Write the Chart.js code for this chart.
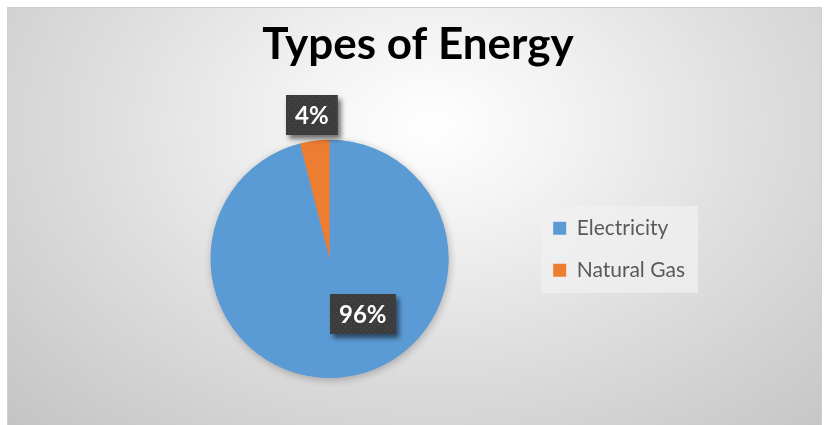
<!DOCTYPE html>
<html>
<head>
<meta charset="utf-8">
<script src="https://cdn.jsdelivr.net/npm/chart.js@4.4.1/dist/chart.umd.min.js"></script>
<style>
  html, body { margin: 0; padding: 0; background: #ffffff; }
  #wrap {
    position: absolute; left: 7px; top: 7px; width: 813px; height: 417px;
    border: 1px solid #cfcfcf; border-bottom: none;
    background: radial-gradient(ellipse farthest-corner at 52% 28%, #ffffff 0%, #f3f3f3 22%, #dedede 55%, #c4c4c4 100%);
  }
  canvas { display: block; }
</style>
</head>
<body>
<div id="wrap"><canvas id="c" width="813" height="417"></canvas></div>
<script>
// ---- data ----
const titleText = 'Types of Energy';
const categories = ['Electricity', 'Natural Gas'];
const shares = [96, 4];
const sliceColors = ['#5B9BD5', '#ED7D31'];

// dotted dark pattern for data-label boxes
function makePattern(ctx) {
  const p = document.createElement('canvas');
  p.width = 6; p.height = 6;
  const pc = p.getContext('2d');
  pc.fillStyle = '#3c3c3c'; pc.fillRect(0, 0, 6, 6);
  pc.fillStyle = '#4e4e4e';
  pc.fillRect(1, 1, 1, 1);
  pc.fillRect(4, 4, 1, 1);
  return ctx.createPattern(p, 'repeat');
}

// nudge the title block horizontally (title sits slightly right of canvas centre)
const titleNudge = {
  id: 'titleNudge',
  afterLayout(chart, args, opts) {
    const t = chart.titleBlock;
    if (!t) return;
    t.left += opts.dx;
    t.right += opts.dx;
  }
};

const pieShadow = {
  id: 'pieShadow',
  beforeDatasetsDraw(chart) {
    const arc = chart.getDatasetMeta(0).data[0];
    if (!arc) return;
    const {x, y, outerRadius} = arc.getProps(['x', 'y', 'outerRadius'], true);
    const ctx = chart.ctx;
    ctx.save();
    ctx.shadowColor = 'rgba(0,0,0,0.28)';
    ctx.shadowBlur = 9;
    ctx.shadowOffsetX = 1;
    ctx.shadowOffsetY = 2;
    ctx.fillStyle = sliceColors[0];
    ctx.beginPath();
    ctx.arc(x, y, outerRadius - 0.5, 0, Math.PI * 2);
    ctx.fill();
    ctx.restore();
  }
};

const boxLabels = {
  id: 'boxLabels',
  afterDatasetsDraw(chart, args, opts) {
    const ctx = chart.ctx;
    const ds = chart.data.datasets[0];
    const total = ds.data.reduce((a, b) => a + b, 0);
    const pattern = makePattern(ctx);
    chart.getDatasetMeta(0).data.forEach((arc, i) => {
      const {x, y, startAngle, endAngle, outerRadius} =
        arc.getProps(['x', 'y', 'startAngle', 'endAngle', 'outerRadius'], true);
      const ang = (startAngle + endAngle) / 2 + opts.angleShift[i] * Math.PI / 180;
      const r = outerRadius * opts.radial[i];
      const cx = x + Math.cos(ang) * r;
      const cy = y + Math.sin(ang) * r;
      const text = Math.round(ds.data[i] / total * 100) + '%';
      ctx.save();
      ctx.font = opts.font;
      const w = ctx.measureText(text).width + 2 * opts.padX;
      const h = opts.boxH;
      const bx = Math.round(cx - w / 2), by = Math.round(cy - h / 2);
      ctx.shadowColor = 'rgba(0,0,0,0.55)';
      ctx.shadowBlur = 5;
      ctx.shadowOffsetX = 3;
      ctx.shadowOffsetY = 4;
      ctx.fillStyle = '#3c3c3c';
      ctx.fillRect(bx, by, w, h);
      ctx.shadowColor = 'transparent';
      ctx.fillStyle = pattern;
      ctx.fillRect(bx, by, w, h);
      ctx.fillStyle = '#ffffff';
      ctx.textAlign = 'center';
      ctx.textBaseline = 'middle';
      ctx.fillText(text, bx + w / 2, by + h / 2 + 1);
      ctx.restore();
    });
  }
};

const legendBg = {
  id: 'legendBg',
  afterDraw(chart) {
    const lg = chart.legend;
    if (!lg || !lg.legendHitBoxes || !lg.legendHitBoxes.length) return;
    const hb = lg.legendHitBoxes;
    let x0 = Infinity, x1 = -Infinity, y0 = Infinity, y1 = -Infinity;
    hb.forEach(b => {
      x0 = Math.min(x0, b.left); x1 = Math.max(x1, b.left + b.width);
      y0 = Math.min(y0, b.top); y1 = Math.max(y1, b.top + b.height);
    });
    const ctx = chart.ctx;
    ctx.save();
    ctx.globalCompositeOperation = 'destination-over';
    ctx.fillStyle = 'rgba(240,240,240,0.75)';
    ctx.fillRect(x0 - 12, y0 - 12, (x1 - x0) + 25, (y1 - y0) + 24);
    ctx.restore();
  }
};

new Chart(document.getElementById('c'), {
  type: 'pie',
  data: {
    labels: categories,
    datasets: [{
      data: shares,
      backgroundColor: sliceColors,
      borderWidth: 0
    }]
  },
  options: {
    responsive: false,
    animation: false,
    layout: { padding: { left: 119, right: 126, top: 0, bottom: 47 } },
    plugins: {
      title: {
        display: true,
        text: titleText,
        color: '#000000',
        font: { family: 'Lato', size: 44, weight: 'bold' },
        padding: { top: 10, bottom: 69 }
      },
      legend: {
        position: 'right',
        align: 'start',
        fullSize: false,
        title: { display: true, text: '', font: { size: 10 }, padding: { top: 45, bottom: 0 } },
        labels: {
          boxWidth: 13,
          boxHeight: 13,
          padding: 21,
          color: '#595959',
          font: { family: 'Lato', size: 21 }
        }
      },
      tooltip: { enabled: false },
      titleNudge: { dx: 7 },
      boxLabels: {
        angleShift: [-24, 0],
        radial: [0.54, 1.22],
        font: 'bold 24px Lato',
        padX: 9,
        boxH: 40
      }
    }
  },
  plugins: [titleNudge, pieShadow, boxLabels, legendBg]
});
</script>
</body>
</html>
